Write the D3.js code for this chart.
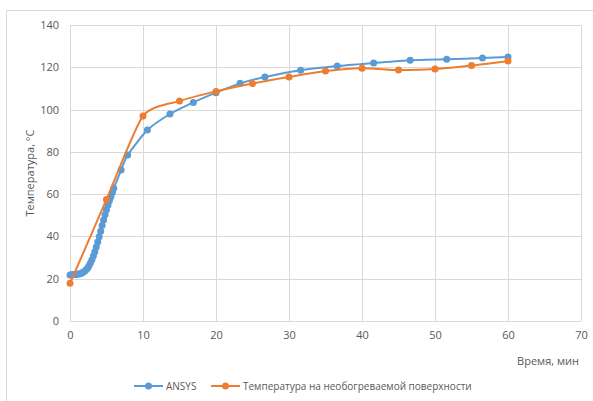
<!DOCTYPE html>
<meta charset="utf-8">
<style>
body { margin: 0; background: #fff; }
text { font-family: "Open Sans", "Noto Sans", sans-serif; }
.grid line { stroke: #d9d9d9; stroke-width: 1; }
.axis text { fill: #595959; font-size: 11px; }
</style>
<svg width="593" height="401"></svg>
<script src="https://d3js.org/d3.v7.min.js"></script>
<script>

// ANSYS: time, min / temperature, °C
var ansysTime = [0, 0.2, 0.4, 0.6, 0.8, 1.0, 1.2, 1.4, 1.6, 1.8, 2.0, 2.2, 2.4, 2.6, 2.8,
  3.0, 3.2, 3.4, 3.6, 3.8, 4.0, 4.2, 4.4, 4.6, 4.8, 5.0, 5.2, 5.4, 5.6, 5.8, 6.0,
  7.0, 7.9, 10.6, 13.7, 16.9, 20.0, 23.3, 26.7, 31.6, 36.6, 41.6, 46.6, 51.6, 56.5, 60.0];
var ansysTemp = [21.8, 21.9, 21.9, 22.0, 22.0, 22.1, 22.2, 22.4, 22.7, 23.0, 23.5, 24.2, 25.0, 26.1, 27.4,
  29.0, 30.8, 32.8, 35.0, 37.4, 39.9, 42.5, 45.2, 47.8, 50.3, 52.6, 54.8, 56.9, 58.8, 60.8, 62.8,
  71.4, 78.5, 90.3, 97.9, 103.4, 108.0, 112.4, 115.4, 118.6, 120.6, 122.0, 123.3, 123.8, 124.4, 124.9];

// measured temperature on the unheated surface
var surfTime = [0, 5, 10, 15, 20, 25, 30, 35, 40, 45, 50, 55, 60];
var surfTemp = [17.8, 57.5, 97.0, 104.0, 108.6, 112.3, 115.4, 118.2, 119.6, 118.7, 119.2, 120.8, 123.0];

var xTicks = [0, 10, 20, 30, 40, 50, 60, 70];
var yTicks = [0, 20, 40, 60, 80, 100, 120, 140];

var seriesNames = ["ANSYS", "Температура на необогреваемой поверхности"];
var colors = ["#5b9bd5", "#ed7d31"];

var svg = d3.select("svg");

// outer chart frame
svg.append("rect")
    .attr("x", 6.5).attr("y", 10.5)
    .attr("width", 620).attr("height", 420)
    .attr("fill", "none").attr("stroke", "#d9d9d9");

var x = d3.scaleLinear().domain([0, 70]).range([70, 581]);
var y = d3.scaleLinear().domain([0, 140]).range([321, 25]);

// grid
var grid = svg.append("g").attr("class", "grid");
grid.selectAll(".h").data(yTicks).enter().append("line")
    .attr("x1", x(0)).attr("x2", x(70))
    .attr("y1", function(d) { return Math.round(y(d)) + 0.5; })
    .attr("y2", function(d) { return Math.round(y(d)) + 0.5; });
grid.selectAll(".v").data(xTicks).enter().append("line")
    .attr("y1", y(0)).attr("y2", y(140))
    .attr("x1", function(d) { return Math.round(x(d)) + 0.5; })
    .attr("x2", function(d) { return Math.round(x(d)) + 0.5; });

// axes (labels only, Excel style)
svg.append("g").attr("class", "axis")
    .attr("transform", "translate(0," + (y(0) + 4) + ")")
    .call(d3.axisBottom(x).tickValues(xTicks).tickSize(0).tickPadding(6))
    .call(function(g) { g.select(".domain").remove(); });

svg.append("g").attr("class", "axis")
    .attr("transform", "translate(" + (x(0) - 7) + ",0)")
    .call(d3.axisLeft(y).tickValues(yTicks).tickSize(0).tickPadding(4))
    .call(function(g) { g.select(".domain").remove(); });

svg.selectAll(".axis text").attr("fill", "#595959").attr("font-size", "11px");

// axis titles
svg.append("text")
    .attr("x", 579).attr("y", 365)
    .attr("text-anchor", "end")
    .attr("fill", "#595959").attr("font-size", "11px")
    .text("Время, мин");

svg.append("text")
    .attr("transform", "translate(34," + ((y(0) + y(140)) / 2) + ") rotate(-90)")
    .attr("text-anchor", "middle")
    .attr("fill", "#595959").attr("font-size", "11px")
    .text("Температура, °С");

// series
var series = [
  ansysTime.map(function(t, i) { return [t, ansysTemp[i]]; }),
  surfTime.map(function(t, i) { return [t, surfTemp[i]]; })
];

var line = d3.line()
    .x(function(d) { return x(d[0]); })
    .y(function(d) { return y(d[1]); })
    .curve(d3.curveCardinal.tension(0.35));

// orange drawn after blue
series.forEach(function(data, i) {
  var g = svg.append("g");
  g.append("path")
      .datum(data)
      .attr("fill", "none")
      .attr("stroke", colors[i])
      .attr("stroke-width", 2)
      .attr("d", line);
  g.selectAll("circle").data(data).enter().append("circle")
      .attr("cx", function(d) { return x(d[0]); })
      .attr("cy", function(d) { return y(d[1]); })
      .attr("r", 3.5)
      .attr("fill", colors[i]);
});

// legend
var legendX = [134, 211];
var legend = svg.append("g");
seriesNames.forEach(function(name, i) {
  var lg = legend.append("g").attr("transform", "translate(" + legendX[i] + ",386)");
  lg.append("line").attr("x1", 0).attr("x2", 29)
      .attr("stroke", colors[i]).attr("stroke-width", 2);
  lg.append("circle").attr("cx", 14.5).attr("r", 3.5).attr("fill", colors[i]);
  lg.append("text").attr("x", 32).attr("y", 4)
      .attr("fill", "#595959").attr("font-size", "10px")
      .text(name);
});

</script>
